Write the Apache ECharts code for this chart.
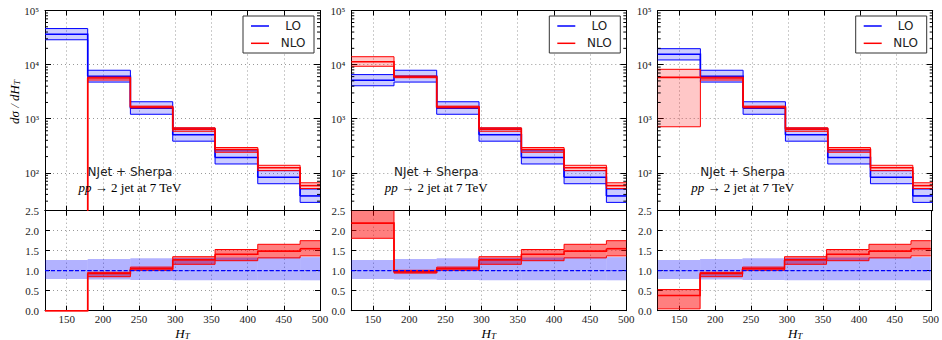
<!DOCTYPE html>
<html><head><meta charset="utf-8">
<script src="https://cdn.jsdelivr.net/npm/echarts@6/dist/echarts.min.js"></script>
<style>html,body{margin:0;padding:0;background:#fff}#c{width:942px;height:340px}</style>
</head><body><div id="c"></div>
<script>
// ---------------- data ----------------
const binEdges = [120, 179, 238, 296.5, 355, 414, 472.5, 500];
const xTickValues = [150, 200, 250, 300, 350, 400, 450, 500];
const minorLogTicks = [30,40,50,60,70,80,90, 200,300,400,500,600,700,800,900,
  2000,3000,4000,5000,6000,7000,8000,9000, 20000,30000,40000,50000,60000,70000,80000,90000];

// panel 1 (top, absolute)
const p1Lo    = [36500, 6100, 1570, 506, 192, 83, 37.5];
const p1LoUp  = [46400, 7870, 2060, 668, 255, 110, 50.3];
const p1LoDn  = [28800, 4760, 1210, 385, 146, 63, 28.5];
const p1Nlo   = [0, 5670, 1650, 643, 271, 124, 58.1];
const p1NloUp = [0, 5860, 1710, 683, 294, 138, 65.6];
const p1NloDn = [0, 5190, 1590, 587, 240, 110, 51.4];
// panel 2
const p2Lo    = [5150, 6100, 1570, 506, 192, 83, 37.5];
const p2LoUp  = [6540, 7870, 2060, 668, 255, 110, 50.3];
const p2LoDn  = [4070, 4760, 1210, 385, 146, 63, 28.5];
const p2Nlo   = [11280, 5920, 1650, 643, 271, 124, 58.1];
const p2NloUp = [14000, 6160, 1710, 683, 294, 138, 65.6];
const p2NloDn = [9320, 5730, 1590, 587, 240, 110, 51.4];
// panel 3
const p3Lo    = [15500, 6100, 1570, 506, 192, 83, 37.5];
const p3LoUp  = [19700, 7870, 2060, 668, 255, 110, 50.3];
const p3LoDn  = [12200, 4760, 1210, 385, 146, 63, 28.5];
const p3Nlo   = [5820, 5670, 1650, 643, 271, 124, 58.1];
const p3NloUp = [8190, 5860, 1710, 683, 294, 138, 65.6];
const p3NloDn = [711, 5190, 1590, 587, 240, 110, 51.4];

// ratio panels
const loRatio   = [1, 1, 1, 1, 1, 1, 1];
const loRatioUp = [1.27, 1.29, 1.31, 1.32, 1.33, 1.33, 1.34];
const loRatioDn = [0.79, 0.78, 0.77, 0.76, 0.76, 0.76, 0.76];
const p1Ratio   = [0, 0.93, 1.05, 1.27, 1.41, 1.49, 1.55];
const p1RatioUp = [0, 0.96, 1.09, 1.35, 1.53, 1.66, 1.75];
const p1RatioDn = [0, 0.85, 1.01, 1.16, 1.25, 1.32, 1.37];
const p2Ratio   = [2.19, 0.97, 1.05, 1.27, 1.41, 1.49, 1.55];
const p2RatioUp = [2.72, 1.01, 1.09, 1.35, 1.53, 1.66, 1.75];
const p2RatioDn = [1.81, 0.94, 1.01, 1.16, 1.25, 1.32, 1.37];
const p3Ratio   = [0.38, 0.93, 1.05, 1.27, 1.41, 1.49, 1.55];
const p3RatioUp = [0.53, 0.96, 1.09, 1.35, 1.53, 1.66, 1.75];
const p3RatioDn = [0.046, 0.85, 1.01, 1.16, 1.25, 1.32, 1.37];

const legendLabels = ['LO', 'NLO'];
const annotLine1 = 'NJet + Sherpa';
const annotLine2a = 'pp';
const annotLine2b = ' \u2192 2 jet at 7 TeV';

// ---------------- layout / style ----------------
const X_MIN = 120, X_MAX = 500;
const LOG_MIN = 20, LOG_MAX = 1e5, R_MIN = 0, R_MAX = 2.5;
const panelLefts = [45, 351.3, 657.7];
const panelWidth = 275;
const topY = 10.5, topH = 200.2, ratioY = 210.7, ratioH = 100;
const BLUE = '#0000ff', RED = '#ff0000';
const serif = '"Liberation Serif","DejaVu Serif",serif';
const sans = '"DejaVu Sans","Liberation Sans",sans-serif';
const supDigits = {2:'\u00b2',3:'\u00b3',4:'\u2074',5:'\u2075'};

const panels = [
  {lo:p1Lo, loUp:p1LoUp, loDn:p1LoDn, nlo:p1Nlo, nloUp:p1NloUp, nloDn:p1NloDn, r:p1Ratio, rUp:p1RatioUp, rDn:p1RatioDn},
  {lo:p2Lo, loUp:p2LoUp, loDn:p2LoDn, nlo:p2Nlo, nloUp:p2NloUp, nloDn:p2NloDn, r:p2Ratio, rUp:p2RatioUp, rDn:p2RatioDn},
  {lo:p3Lo, loUp:p3LoUp, loDn:p3LoDn, nlo:p3Nlo, nloUp:p3NloUp, nloDn:p3NloDn, r:p3Ratio, rUp:p3RatioUp, rDn:p3RatioDn}
];

const grids = [], xAxes = [], yAxes = [], series = [], graphics = [];

function addGrid(L, T, H, kind) {
  const g = grids.length;
  grids.push({left: L, top: T, width: panelWidth, height: H, containLabel: false});
  const isRatio = kind === 'ratio';
  const axisLine = {show: true, onZero: false, lineStyle: {color: '#000', width: 1}};
  const dotted = {show: true, lineStyle: {color: '#999', type: [1, 3], width: 1}};
  xAxes.push({gridIndex: g, type: 'value', min: X_MIN, max: X_MAX, position: 'bottom',
    axisLine,
    axisTick: {show: true, inside: true, length: 5, customValues: xTickValues, lineStyle: {color: '#000'}},
    axisLabel: {show: isRatio, customValues: xTickValues, margin: 3, fontSize: 11, color: '#222', fontFamily: serif},
    splitLine: dotted});
  xAxes.push({gridIndex: g, type: 'value', min: X_MIN, max: X_MAX, position: 'top',
    axisLine,
    axisTick: {show: true, inside: true, length: 5, customValues: xTickValues, lineStyle: {color: '#000'}},
    axisLabel: {show: false}, splitLine: {show: false}});
  if (isRatio) {
    const base = {gridIndex: g, type: 'value', min: R_MIN, max: R_MAX, interval: 0.5, axisLine,
      axisTick: {show: true, inside: true, length: 5, lineStyle: {color: '#000'}}};
    yAxes.push(Object.assign({}, base, {position: 'left',
      axisLabel: {show: true, margin: 6, fontSize: 11, color: '#222', fontFamily: serif, formatter: v => v.toFixed(1)},
      splitLine: dotted}));
    yAxes.push(Object.assign({}, base, {position: 'right', axisLabel: {show: false}, splitLine: {show: false}}));
  } else {
    const base = {gridIndex: g, type: 'log', logBase: 10, min: LOG_MIN, max: LOG_MAX, axisLine,
      axisTick: {show: true, inside: true, length: 6, lineStyle: {color: '#000'}}};
    yAxes.push(Object.assign({}, base, {position: 'left',
      axisLabel: {show: true, margin: 6, fontSize: 11, color: '#222', fontFamily: serif, showMinLabel: false,
        formatter: v => { const e = Math.round(Math.log10(v)); return Math.abs(v - Math.pow(10, e)) < 1e-6 * v ? '10' + supDigits[e] : ''; }},
      splitLine: dotted}));
    yAxes.push(Object.assign({}, base, {position: 'right', axisLabel: {show: false}, splitLine: {show: false}}));
  }
  return g;
}

function bandSeries(g, lo, hi, color, yMin, yMax) {
  return {type: 'custom', xAxisIndex: 2 * g, yAxisIndex: 2 * g, silent: true, animation: false,
    dimensions: ['x0', 'x1', 'lo', 'hi'], encode: {x: [0, 1], y: [2, 3]},
    data: lo.map((v, i) => [binEdges[i], binEdges[i + 1], v, hi[i]]),
    renderItem(params, api) {
      let a = api.value(2), b = api.value(3);
      if (!(b > yMin)) return;
      a = Math.max(a, yMin); b = Math.min(b, yMax);
      if (b <= a) return;
      const p0 = api.coord([api.value(0), b]), p1 = api.coord([api.value(1), a]);
      const cs = params.coordSys;
      const r = echarts.graphic.clipRectByRect(
        {x: p0[0], y: p0[1], width: p1[0] - p0[0], height: p1[1] - p0[1]},
        {x: cs.x, y: cs.y, width: cs.width, height: cs.height});
      return r ? {type: 'rect', shape: r, style: {fill: color}} : undefined;
    }};
}

function stepSeries(g, vals, color, width, yMin, yMax, dash) {
  const n = vals.length;
  return {type: 'custom', xAxisIndex: 2 * g, yAxisIndex: 2 * g, silent: true, animation: false,
    dimensions: ['x0', 'x1', 'v', 'vn'], encode: {x: [0, 1], y: [2]},
    data: vals.map((v, i) => [binEdges[i], binEdges[i + 1], v, i + 1 < n ? vals[i + 1] : v]),
    renderItem(params, api) {
      const x0 = api.value(0), x1 = api.value(1), v = api.value(2), vn = api.value(3);
      const cl = t => Math.min(Math.max(t, yMin), yMax);
      const pts = [];
      if (v >= yMin && v <= yMax) { pts.push(api.coord([x0, v])); pts.push(api.coord([x1, v])); }
      if (cl(v) !== cl(vn)) {
        if (!pts.length) pts.push(api.coord([x1, cl(v)]));
        pts.push(api.coord([x1, cl(vn)]));
      }
      if (pts.length < 2) return;
      return {type: 'polyline', shape: {points: pts},
        style: {stroke: color, lineWidth: width, fill: null, lineDash: dash || null}};
    }};
}

function minorTickSeries(g) {
  return {type: 'custom', xAxisIndex: 2 * g, yAxisIndex: 2 * g, silent: true, animation: false,
    dimensions: ['x0', 'x1', 'v'], encode: {x: [0, 1], y: [2]},
    data: minorLogTicks.map(v => [X_MIN, X_MAX, v]),
    renderItem(params, api) {
      const p = api.coord([api.value(0), api.value(2)]), q = api.coord([api.value(1), api.value(2)]);
      return {type: 'group', children: [
        {type: 'line', shape: {x1: p[0], y1: p[1], x2: p[0] + 3, y2: p[1]}, style: {stroke: '#000', lineWidth: 1}},
        {type: 'line', shape: {x1: q[0], y1: q[1], x2: q[0] - 3, y2: q[1]}, style: {stroke: '#000', lineWidth: 1}}
      ]};
    }};
}

const subRich = {
  i: {fontFamily: serif, fontStyle: 'italic', fontSize: 13, color: '#222'},
  s: {fontFamily: serif, fontStyle: 'italic', fontSize: 9, color: '#222', padding: [5, 0, 0, 0]}
};

panels.forEach((P, p) => {
  const L = panelLefts[p];
  const gt = addGrid(L, topY, topH, 'log');
  // top panel
  series.push(bandSeries(gt, P.loDn, P.loUp, 'rgba(0,0,255,0.2)', LOG_MIN, LOG_MAX));
  series.push(stepSeries(gt, P.loUp, BLUE, 1, LOG_MIN, LOG_MAX));
  series.push(stepSeries(gt, P.loDn, BLUE, 1, LOG_MIN, LOG_MAX));
  series.push(stepSeries(gt, P.lo, BLUE, 1.6, LOG_MIN, LOG_MAX));
  series.push(bandSeries(gt, P.nloDn, P.nloUp, 'rgba(255,0,0,0.22)', LOG_MIN, LOG_MAX));
  series.push(stepSeries(gt, P.nloUp, RED, 1, LOG_MIN, LOG_MAX));
  series.push(stepSeries(gt, P.nloDn, RED, 1, LOG_MIN, LOG_MAX));
  series.push(stepSeries(gt, P.nlo, RED, 1.6, LOG_MIN, LOG_MAX));
  series.push(minorTickSeries(gt));
  // ratio panel
  const gr = addGrid(L, ratioY, ratioH, 'ratio');
  series.push(bandSeries(gr, P.rDn, P.rUp, 'rgba(255,0,0,0.5)', R_MIN, R_MAX));
  series.push(bandSeries(gr, loRatioDn, loRatioUp, 'rgba(0,0,255,0.3)', R_MIN, R_MAX));
  series.push(stepSeries(gr, P.rUp, RED, 1, R_MIN, R_MAX));
  series.push(stepSeries(gr, P.rDn, RED, 1, R_MIN, R_MAX));
  series.push(stepSeries(gr, P.r, RED, 1.6, R_MIN, R_MAX));
  series.push(stepSeries(gr, loRatio, BLUE, 1.2, R_MIN, R_MAX, [4, 2]));

  // legend box
  const bx = L + 198, by = 16;
  graphics.push({type: 'rect', silent: true, z: 100, shape: {x: bx, y: by, width: 71, height: 37},
    style: {fill: '#fff', stroke: '#333', lineWidth: 1}});
  [[BLUE, 26], [RED, 43.3]].forEach(([c, yy], k) => {
    graphics.push({type: 'line', silent: true, z: 101, shape: {x1: bx + 8, y1: yy, x2: bx + 26, y2: yy},
      style: {stroke: c, lineWidth: 1.5}});
    graphics.push({type: 'text', silent: true, z: 101, x: bx + 50, y: yy,
      style: {text: legendLabels[k], font: '12px ' + sans, fill: '#222', align: 'center', verticalAlign: 'middle'}});
  });
  // annotation
  const cx = L + 85;
  graphics.push({type: 'text', silent: true, z: 100, x: cx, y: 172,
    style: {text: annotLine1, font: '12px ' + sans, fill: '#222', align: 'center', verticalAlign: 'middle'}});
  graphics.push({type: 'text', silent: true, z: 100, x: cx, y: 187,
    style: {text: '{i|' + annotLine2a + '}{n|' + annotLine2b + '}', align: 'center', verticalAlign: 'middle',
      rich: {i: {fontFamily: serif, fontStyle: 'italic', fontSize: 13, color: '#222'},
             n: {fontFamily: serif, fontSize: 13, color: '#222'}}}});
  // x title
  graphics.push({type: 'text', silent: true, z: 100, x: L + panelWidth / 2, y: 333,
    style: {text: '{i|H}{s|T}', align: 'center', verticalAlign: 'middle', rich: subRich}});
});

// y title
graphics.push({type: 'text', silent: true, z: 100, x: 14, y: 102, rotation: Math.PI / 2,
  style: {text: '{i|d\u03c3 / dH}{s|T}', align: 'center', verticalAlign: 'middle', rich: subRich}});

const chart = echarts.init(document.getElementById('c'), null, {renderer: 'svg', width: 942, height: 340});
chart.setOption({animation: false, backgroundColor: '#fff', grid: grids, xAxis: xAxes, yAxis: yAxes,
  series, graphic: graphics});
</script></body></html>
